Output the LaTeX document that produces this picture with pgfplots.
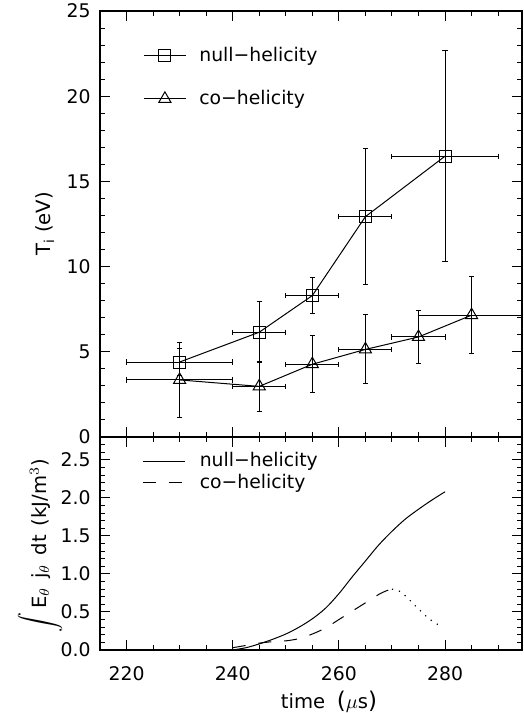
\documentclass[border=0pt]{standalone}
\usepackage{fontspec}
\setmainfont{DejaVu Sans}
\usepackage{pgfplots}
\usepackage{pgfplotstable}
\pgfplotsset{compat=1.18}

\pgfplotstableread{
x y ex ey
230 4.40 10 0.80
245 6.15 5 1.80
255 8.30 5 1.07
265 12.93 5 4.00
280 16.48 10 6.18
}\nulldata

\pgfplotstableread{
x y ex ey
230 3.35 10 2.20
245 2.97 5 1.47
255 4.27 5 1.66
265 5.14 5 2.02
275 5.87 5 1.54
285 7.15 10 2.27
}\codata

\pgfplotstableread{
t e
240 0.00
242.5 0.03
245 0.08
247.5 0.14
250 0.21
252.5 0.30
255 0.41
257.5 0.55
260 0.74
262.5 0.96
265 1.17
267.5 1.38
270 1.56
272.5 1.72
275 1.85
277.5 1.97
280 2.08
}\nullE

\pgfplotstableread{
t e
240 0.03
242.5 0.06
245 0.09
247.5 0.11
250 0.12
252.5 0.15
255 0.21
257.5 0.29
260 0.40
262.5 0.51
265 0.62
267.5 0.73
269 0.78
270 0.80
}\coE

\pgfplotstableread{
t e
270 0.80
271.5 0.77
273 0.68
275 0.54
277 0.41
279 0.32
}\coEdot

\pgfplotsset{
  mystyle/.style={
    scale only axis, width=211pt,
    xmin=215, xmax=294.5,
    xtick={200,220,240,260,280,300}, minor x tick num=3,
    tick align=inside, major tick length=5pt, minor tick length=2.5pt,
    axis line style={line width=0.6pt},
    every tick/.style={black, line width=0.5pt},
    /pgf/number format/assume math mode=true,
    tick label style={font=\fontsize{9.4}{11}\selectfont},
    yticklabel style={xshift=-1.2pt},
    label style={font=\fontsize{9.8}{12}\selectfont},
    legend cell align=left,
    legend image code/.code={\draw[mark repeat=2,mark phase=2,##1] plot coordinates {(0pt,0pt) (10.5pt,0pt) (21pt,0pt)};},
  },
}

\begin{document}
\begin{tikzpicture}[font=\fontsize{9.4}{11}\selectfont]
\path[use as bounding box] (-50pt,-31.5pt) rectangle (212pt,325pt);

\begin{axis}[mystyle,
  at={(0pt,106.5pt)}, anchor=south west, height=213pt,
  ymin=0, ymax=25, ytick={0,5,...,25}, minor y tick num=4,
  xticklabels={},
  ylabel={T\textsubscript{i} (eV)},
  ylabel style={at={(axis description cs:-0.1303,0.5)}, anchor=center},
  legend style={draw=none, fill=none, at={(rel axis cs:0,1)}, anchor=north west,
    xshift=21.5pt, yshift=-17.75pt, inner sep=0pt, row sep=13pt, column sep=6.5pt,
    nodes={inner sep=0pt, text depth=0.15em}, font=\fontsize{9.4}{11}\selectfont},
]
\addplot[black, line width=0.5pt, mark=square, mark size=3pt,
  error bars/.cd, x dir=both, x explicit, y dir=both, y explicit,
  error bar style={line width=0.5pt},
  error mark options={rotate=90, mark size=1.3pt, line width=0.5pt}]
  table[x=x, y=y, x error=ex, y error=ey] {\nulldata};
\addlegendentry{null−helicity}
\addplot[black, line width=0.5pt, mark=triangle, mark size=3.5pt,
  error bars/.cd, x dir=both, x explicit, y dir=both, y explicit,
  error bar style={line width=0.5pt},
  error mark options={rotate=90, mark size=1.3pt, line width=0.5pt}]
  table[x=x, y=y, x error=ex, y error=ey] {\codata};
\addlegendentry{co−helicity}
\end{axis}

\begin{axis}[mystyle,
  at={(0pt,0pt)}, anchor=south west, height=106.5pt,
  ymin=0, ymax=2.8, ytick={0,0.5,1,1.5,2,2.5,3}, minor y tick num=4,
  yticklabel style={/pgf/number format/.cd, fixed, fixed zerofill, precision=1},
  xticklabel style={yshift=-4.7pt},
  xlabel={time\hspace{0.6em}{\fontsize{11.5}{12}\selectfont(}$\mu$s{\fontsize{11.5}{12}\selectfont)}},
  xlabel style={at={(axis description cs:0.5427,-0.244)}, anchor=center},
  ylabel={{\fontsize{11.5}{12}\selectfont$\displaystyle\int$}\hspace{2pt}E$_{\theta}$\hspace{0.45em}j$_{\theta}$\hspace{0.45em}dt\hspace{0.45em}(kJ/m$^{3}$)},
  ylabel style={at={(axis description cs:-0.142,0.488)}, anchor=center},
  legend style={draw=none, fill=none, at={(rel axis cs:0,1)}, anchor=north west,
    xshift=20.85pt, yshift=-7.55pt, inner sep=0pt, row sep=2pt, column sep=7.35pt,
    nodes={inner sep=0pt, text depth=0.15em}, font=\fontsize{9.4}{11}\selectfont},
]
\addplot[black, line width=0.5pt, smooth, tension=0.5] table[x=t, y=e] {\nullE};
\addlegendentry{null−helicity}
\addplot[black, line width=0.5pt, smooth, tension=0.5, dash pattern=on 6.5pt off 6.5pt] table[x=t, y=e] {\coE};
\addlegendentry{co−helicity}
\addplot[black, line width=0.6pt, smooth, tension=0.5, dash pattern=on 0.6pt off 3pt, forget plot] table[x=t, y=e] {\coEdot};
\end{axis}
\end{tikzpicture}
\end{document}
